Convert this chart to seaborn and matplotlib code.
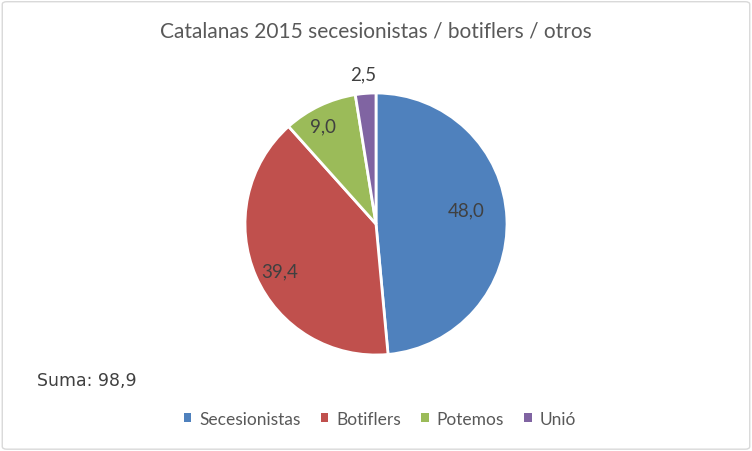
import matplotlib
matplotlib.use("Agg")
import matplotlib.pyplot as plt
import seaborn as sns
import numpy as np
from matplotlib.patches import FancyBboxPatch, Patch

categories = ["Secesionistas", "Botiflers", "Potemos", "Unió"]
values = [48.0, 39.4, 9.0, 2.5]
value_labels = ["48,0", "39,4", "9,0", "2,5"]
title = "Catalanas 2015 secesionistas / botiflers / otros"
suma_text = "Suma: 98,9"

sns.set_theme(style="white")
plt.rcParams["font.family"] = ["Lato", "DejaVu Sans"]

colors = ["#4F81BD", "#C0504D", "#9BBB59", "#8064A2"]
text_color = "#595959"

fig = plt.figure(figsize=(7.52, 4.52), dpi=100)
fig.patch.set_facecolor("white")

border = FancyBboxPatch((0.003, 0.004), 0.994, 0.99, boxstyle="round,pad=0,rounding_size=0.006",
                        transform=fig.transFigure, facecolor="none", edgecolor="#D9D9D9",
                        linewidth=1.0)
fig.patches.append(border)

cx, cy, r = 376, 225, 131
W, H = 752, 452
ax = fig.add_axes([(cx - r) / W, (H - cy - r) / H, 2 * r / W, 2 * r / H])
wedges, _ = ax.pie(values, colors=colors, startangle=90, counterclock=False, radius=1,
                   wedgeprops=dict(edgecolor="white", linewidth=2.0))
ax.set_xlim(-1, 1)
ax.set_ylim(-1, 1)
ax.set_aspect("equal")
ax.axis("off")

# label placement (radius fraction, angle offset in degrees)
label_pos = [(0.70, 6.0), (0.82, 2.5), (0.85, 3.0), (1.15, 0.5)]
for w, lab, (lr, off) in zip(wedges, value_labels, label_pos):
    ang = np.deg2rad((w.theta1 + w.theta2) / 2 + off)
    ax.text(lr * np.cos(ang), lr * np.sin(ang), lab, ha="center", va="center",
            fontsize=13.5, color="#404040", clip_on=False)

fig.text(0.5, 1 - 31 / H, title, ha="center", va="center", fontsize=15, color=text_color)
fig.text(37 / W, 1 - 381 / H, suma_text, ha="left", va="center", fontsize=12.5,
         color="#404040", family="DejaVu Sans")

handles = [Patch(facecolor=c, edgecolor="none") for c in colors]
fig.legend(handles, categories, loc="center", bbox_to_anchor=(0.505, 1 - 420 / H),
           ncol=4, frameon=False, fontsize=12.5, labelcolor=text_color,
           handlelength=0.45, handleheight=0.45, handletextpad=0.45, columnspacing=1.15)

fig.savefig("out.png", dpi=100)
